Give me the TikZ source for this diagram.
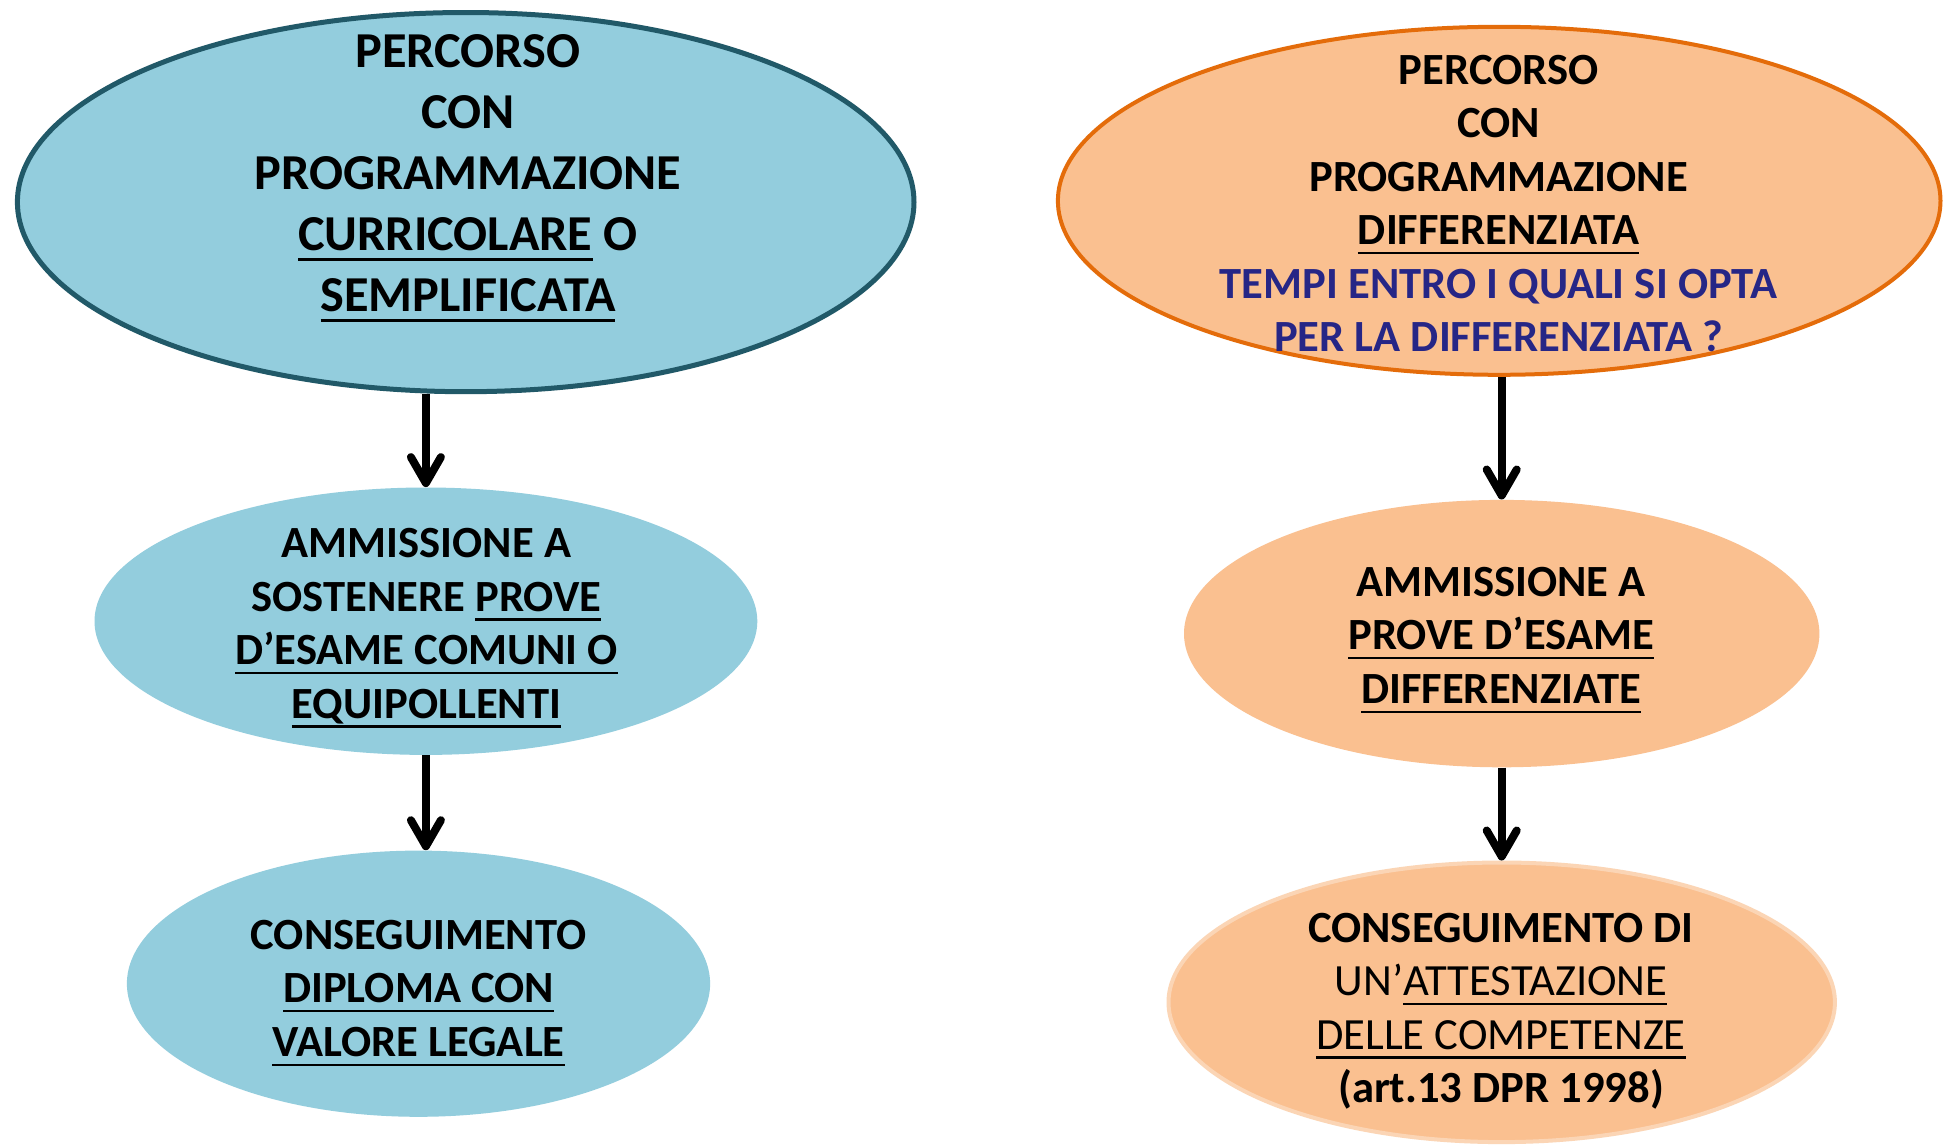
\documentclass[tikz,border=0pt]{standalone}
\usepackage{fontspec}
\setmainfont{Carlito}
\usetikzlibrary{shapes.geometric,arrows.meta}
\definecolor{aquaF}{HTML}{93CDDD}
\definecolor{aquaD}{HTML}{215968}
\definecolor{orF}{HTML}{FAC090}
\definecolor{orD}{HTML}{E46C0A}
\definecolor{orL}{HTML}{FBD5B5}
\definecolor{blueT}{HTML}{262686}
\newcommand\ulx[1]{\leavevmode\setbox0\hbox{#1}\rlap{\rule[-0.215em]{\wd0}{0.05em}}\box0\relax}
\tikzset{
  ell/.style={ellipse, inner sep=0pt},
  bigtxt/.style={align=center, inner sep=0pt, font=\fontsize{25.15}{30.5}\selectfont\bfseries},
  txt/.style={align=center, inner sep=0pt, font=\fontsize{22.3}{26.75}\selectfont\bfseries},
  arr/.style={line width=4pt, -{Straight Barb[length=13pt,width=15pt,round]}}
}
\begin{document}
\begin{tikzpicture}[x=0.5pt,y=-0.5pt]
\useasboundingbox[fill=white] (0,0) rectangle (1950,1146);
% left column
\node[ell, fill=aquaF, draw=aquaD, line width=2.5pt, minimum width=448.3pt, minimum height=189.6pt] (e1) at (465.7,202.1) {};
\node[ell, fill=aquaF, minimum width=331.4pt, minimum height=133.7pt] (e2) at (425.9,621.2) {};
\node[ell, fill=aquaF, minimum width=291.6pt, minimum height=133.1pt] (e3) at (418.5,983.7) {};
% right column
\node[ell, fill=orF, draw=orD, line width=2pt, minimum width=441.3pt, minimum height=174pt] (e4) at (1499.2,200.8) {};
\node[ell, fill=orF, minimum width=317.7pt, minimum height=133.7pt] (e5) at (1501.7,633.6) {};
\node[ell, fill=orF, draw=orL, line width=2pt, minimum width=333.2pt, minimum height=139.8pt] (e6) at (1501.7,1002.3) {};
% texts
\node[bigtxt] (t1) at (468,178) {PERCORSO\\CON\\PROGRAMMAZIONE\\\ulx{CURRICOLARE} O\\\ulx{SEMPLIFICATA}};
\node[txt] (t2) at (426.5,628) {AMMISSIONE A\\SOSTENERE \ulx{PROVE}\\\ulx{D’ESAME COMUNI O}\\\ulx{EQUIPOLLENTI}};
\node[txt] (t3) at (418.5,993) {CONSEGUIMENTO\\\ulx{DIPLOMA CON}\\\ulx{VALORE LEGALE}};
\node[txt] (t4) at (1498.6,203.5) {PERCORSO\\CON\\PROGRAMMAZIONE\\\ulx{DIFFERENZIATA}\\{\color{blueT}TEMPI ENTRO I QUALI SI OPTA}\\{\color{blueT}PER LA DIFFERENZIATA ?}};
\node[txt] (t5) at (1501,640) {AMMISSIONE A\\\ulx{PROVE D’ESAME}\\\ulx{DIFFERENZIATE}};
\node[txt] (t6) at (1501,1011) {CONSEGUIMENTO DI\\{\mdseries UN’\ulx{ATTESTAZIONE}}\\{\mdseries\ulx{DELLE COMPETENZE}}\\(art.13 DPR 1998)};
% arrows
\draw[arr] (e1.south -| e2.north) -- (e2.north);
\draw[arr] (e2.south) -- (e2.south |- e3.north);
\draw[arr] (e4.south -| e5.north) -- (e5.north);
\draw[arr] (e5.south) -- (e5.south |- e6.north);
\end{tikzpicture}
\end{document}
